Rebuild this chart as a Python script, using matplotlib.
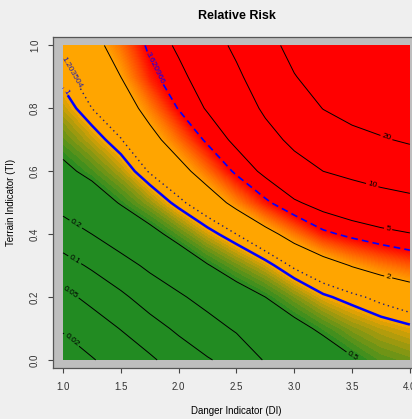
import numpy as np
import matplotlib.pyplot as plt
from matplotlib.colors import to_rgb

plt.rcParams['font.family'] = ['Liberation Sans', 'DejaVu Sans']
plt.rcParams['contour.negative_linestyle'] = 'solid'

# grid: log10(relative risk) at each DI (rows) and TI (columns)
di = [1.0, 1.25, 1.5, 1.75, 2.0, 2.25, 2.5, 2.75, 3.0, 3.25, 3.5, 3.75, 4.0]
ti = [0.0, 0.1, 0.2, 0.3, 0.4, 0.5, 0.6, 0.7, 0.8, 0.9, 1.0]
log_rr = [
    [-1.93, -1.66, -1.39, -1.11, -0.84, -0.594, -0.361, -0.202, -0.068, 0.037, 0.11],
    [-1.725, -1.468, -1.213, -0.961, -0.699, -0.45, -0.234, -0.067, 0.0805, 0.155, 0.23],
    [-1.526, -1.289, -1.052, -0.804, -0.543, -0.282, -0.088, 0.074, 0.188, 0.301, 0.395],
    [-1.349, -1.108, -0.877, -0.646, -0.381, -0.125, 0.094, 0.232, 0.373, 0.516, 0.59],
    [-1.162, -0.952, -0.742, -0.487, -0.215, 0.045, 0.228, 0.404, 0.567, 0.65, 0.73],
    [-1.02, -0.82, -0.589, -0.315, -0.052, 0.19, 0.40, 0.587, 0.716, 0.80, 0.887],
    [-0.904, -0.663, -0.422, -0.175, 0.0805, 0.36, 0.587, 0.742, 0.85, 0.957, 1.047],
    [-0.675, -0.486, -0.301, -0.05, 0.232, 0.529, 0.741, 0.908, 1.042, 1.135, 1.214],
    [-0.56, -0.381, -0.157, 0.106, 0.382, 0.674, 0.893, 1.058, 1.174, 1.29, 1.379],
    [-0.46, -0.255, -0.023, 0.21, 0.525, 0.769, 1.0, 1.154, 1.306, 1.406, 1.52],
    [-0.325, -0.14, 0.048, 0.31, 0.594, 0.837, 1.06, 1.232, 1.38, 1.51, 1.64],
    [-0.215, -0.072, 0.119, 0.381, 0.646, 0.90, 1.106, 1.283, 1.418, 1.57, 1.73],
    [-0.17, -0.026, 0.182, 0.433, 0.689, 0.938, 1.146, 1.327, 1.457, 1.63, 1.80],
]

line_levels = [0.02, 0.05, 0.1, 0.2, 0.5, 2, 5, 10, 20]
line_names = ['0.02', '0.05', '0.1', '0.2', '0.5', '2', '5', '10', '20']
lower_cut = 1.203504
upper_cut = 3.620966

L = np.array(log_rr).T
X, Y = np.meshgrid(di, ti)

# colour bands: green -> orange between 0.5 and 1, orange -> red between 2 and the upper cut
green = np.array(to_rgb('#228B22'))
orange = np.array(to_rgb('#FFA500'))
red = np.array(to_rgb('#FF0000'))
edges = [1e-3] + [0.5 + 0.05 * k for k in range(11)] + [2.0 + 0.05 * k for k in range(33)] + [upper_cut, 1e3]
cols = []
for a, b in zip(edges[:-1], edges[1:]):
    m = (a + b) / 2
    if b <= 0.5:
        c = green
    elif b <= 1.0:
        c = green + (orange - green) * (m - 0.5) / 0.5
    elif b <= 2.0:
        c = orange
    elif b <= upper_cut + 1e-9:
        c = orange + (red - orange) * (m - 2.0) / (upper_cut - 2.0)
    else:
        c = red
    cols.append(tuple(c))

fig = plt.figure(figsize=(4.12, 4.19), dpi=100, facecolor='#efefef')
ax = fig.add_axes([0.1294, 0.121, 0.889, 0.790])
ax.set_facecolor('#bebebe')

ax.contourf(X, Y, L, levels=np.log10(edges), colors=cols, antialiased=False)

cs = ax.contour(X, Y, L, levels=np.log10(line_levels), colors='k', linewidths=0.7,
                linestyles='solid')
fmt = {lv: s for lv, s in zip(cs.levels, line_names)}
ax.clabel(cs, fmt=fmt, fontsize=6, inline=True, inline_spacing=2,
          manual=[(1.075, 0.064), (1.075, 0.22), (1.10, 0.318), (1.11, 0.432),
                  (3.52, 0.02), (3.81, 0.26), (3.81, 0.413), (3.67, 0.55), (3.79, 0.70)])

cs1 = ax.contour(X, Y, L, levels=[0.0], colors='blue', linewidths=1.8, linestyles='solid')
ax.clabel(cs1, fmt={cs1.levels[0]: '1'}, fontsize=6, inline=True, inline_spacing=2,
          manual=[(1.01, 0.85)])

cs2 = ax.contour(X, Y, L, levels=[np.log10(lower_cut)], colors='#1c1c7a', linewidths=1.0,
                 linestyles=[(0, (1, 2.5))])
ax.clabel(cs2, fmt={cs2.levels[0]: '1.203504'}, fontsize=6, inline=True, inline_spacing=2,
          colors='#2020b0', manual=[(1.08, 0.916)])

cs3 = ax.contour(X, Y, L, levels=[np.log10(upper_cut)], colors='blue', linewidths=1.2,
                 linestyles=[(0, (4, 2.5))])
ax.clabel(cs3, fmt={cs3.levels[0]: '3.620966'}, fontsize=6, inline=True, inline_spacing=2,
          manual=[(1.795, 0.928)])

ax.set_xlim(0.916, 4.084)
ax.set_ylim(-0.0265, 1.026)
ax.set_xticks([1.0, 1.5, 2.0, 2.5, 3.0, 3.5, 4.0])
ax.set_yticks([0.0, 0.2, 0.4, 0.6, 0.8, 1.0])
ax.set_xticklabels(['1.0', '1.5', '2.0', '2.5', '3.0', '3.5', '4.0'])
ax.set_yticklabels(['0.0', '0.2', '0.4', '0.6', '0.8', '1.0'], rotation=90, va='center')
ax.tick_params(direction='out', length=3.6, width=0.8, colors='#444444', labelsize=7,
               labelcolor='#333333', pad=6)
for s in ax.spines.values():
    s.set_color('#555555')
    s.set_linewidth(0.9)

ax.set_title('Relative Risk', fontsize=9, fontweight='bold', pad=13)
ax.set_xlabel('Danger Indicator (DI)', fontsize=7, labelpad=10)
ax.set_ylabel('Terrain Indicator (TI)', fontsize=7, labelpad=10)

fig.savefig('out.png', dpi=100, facecolor=fig.get_facecolor())
